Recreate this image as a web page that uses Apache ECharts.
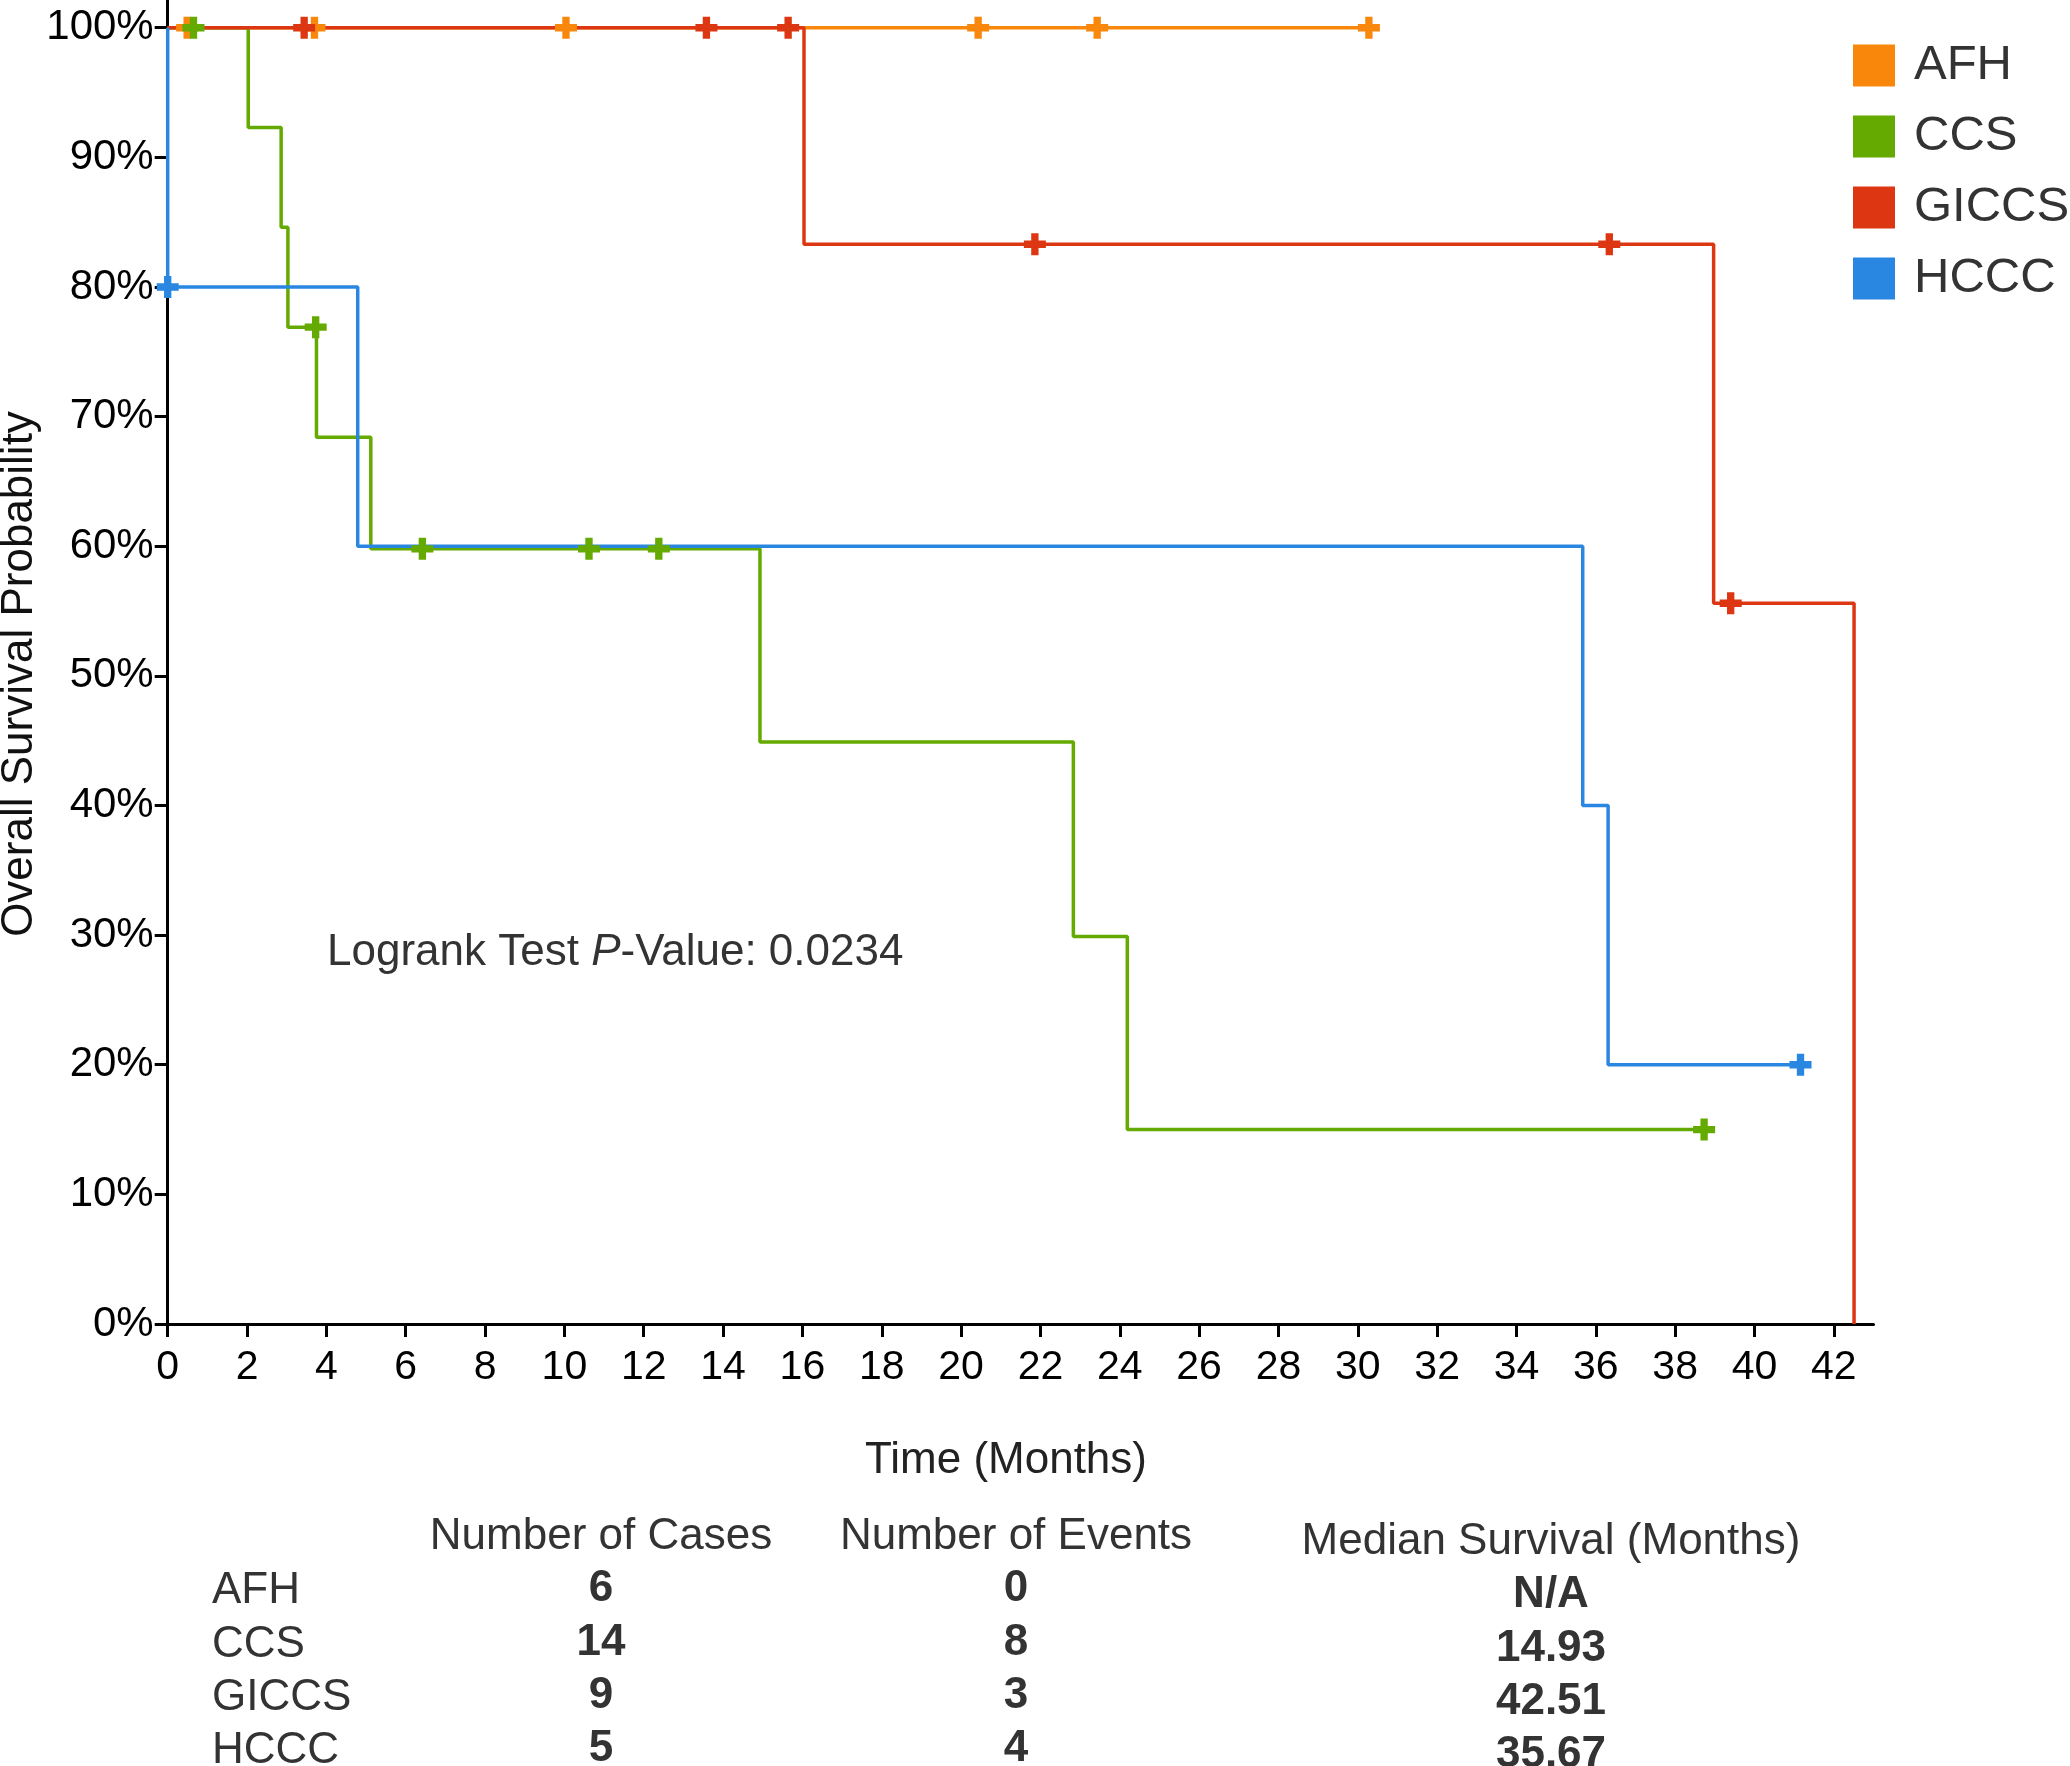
<!DOCTYPE html>
<html><head><meta charset="utf-8">
<script src="https://cdn.jsdelivr.net/npm/echarts@6/dist/echarts.min.js"></script>
<style>html,body{margin:0;padding:0;background:#fff}#c{width:2070px;height:1766px}</style>
</head><body><div id="c"></div>
<script>
// ---- data ----
const groups = ['AFH', 'CCS', 'GICCS', 'HCCC'];
const groupColors = ['#F8870B', '#64AA00', '#DC3712', '#2A87E1'];

// Kaplan-Meier steps: time (months) of each change and survival after it
const afhTimes = [0, 30.28];
const afhSurv = [1, 1];
const afhCensor = [0.49, 3.70, 10.04, 20.43, 23.43, 30.28];

const ccsTimes = [0, 2.03, 2.86, 3.03, 3.75, 5.12, 14.93, 22.83, 24.19, 38.73];
const ccsSurv = [1, 0.923, 0.846, 0.769, 0.684, 0.598, 0.449, 0.299, 0.150, 0.150];
const ccsCensor = [0.65, 3.73, 6.42, 10.62, 12.38, 38.73];

const giccsTimes = [0, 16.04, 38.97, 42.51];
const giccsSurv = [1, 0.833, 0.556, 0];
const giccsCensor = [3.44, 13.58, 15.64, 21.86, 36.34, 39.40];

const hcccTimes = [0, 0, 4.79, 35.67, 36.31, 41.16];
const hcccSurv = [1, 0.8, 0.6, 0.4, 0.2, 0.2];
const hcccCensor = [0, 41.16];

const xTickValues = [0,2,4,6,8,10,12,14,16,18,20,22,24,26,28,30,32,34,36,38,40,42];
const yTickValues = [0,0.1,0.2,0.3,0.4,0.5,0.6,0.7,0.8,0.9,1.0];

const tableHeaders = ['Number of Cases', 'Number of Events', 'Median Survival (Months)'];
const numCases = ['6', '14', '9', '5'];
const numEvents = ['0', '8', '3', '4'];
const medianSurvival = ['N/A', '14.93', '42.51', '35.67'];

const pValueLabel = '0.0234';

// ---- build ----
const FONT = '"Liberation Sans", Arial, Helvetica, sans-serif';
const curves = [
  [afhTimes, afhSurv, afhCensor],
  [ccsTimes, ccsSurv, ccsCensor],
  [giccsTimes, giccsSurv, giccsCensor],
  [hcccTimes, hcccSurv, hcccCensor]
];
function survAt(times, surv, t) {
  let idx = 0;
  for (let i = 0; i < times.length; i++) if (times[i] <= t) idx = i;
  return surv[idx];
}
const crossPath = 'path://M1,0H2V1H3V2H2V3H1V2H0V1H1Z';
const series = [];
curves.forEach((c, k) => {
  series.push({
    name: groups[k], type: 'line', step: 'end', showSymbol: false, symbol: 'none',
    color: groupColors[k], z: 2, animation: false,
    lineStyle: { width: 3.5, color: groupColors[k] },
    data: c[0].map((t, i) => [t, c[1][i]])
  });
});
curves.forEach((c, k) => {
  series.push({
    name: groups[k], type: 'scatter', symbol: crossPath, symbolSize: 22,
    color: groupColors[k], z: 5, animation: false,
    itemStyle: { color: groupColors[k], opacity: 1 },
    data: c[2].map(t => [t, survAt(c[0], c[1], t)])
  });
});

const graphics = [];
function txt(x, y, text, opts) {
  graphics.push({ type: 'text', x: x, y: y, silent: true, style: Object.assign({
    text: text, fontSize: 44, fontFamily: FONT, fill: '#333', align: 'center', verticalAlign: 'middle'
  }, opts || {}) });
}
// axis titles
graphics.push({ type: 'text', x: 20, y: 674, rotation: Math.PI / 2, silent: true,
  style: { text: 'Overall Survival Probability', fontSize: 44, fontFamily: FONT, fill: '#111', align: 'center', verticalAlign: 'middle' } });
txt(1006, 1461, 'Time (Months)', { fill: '#222' });
// logrank annotation
graphics.push({ type: 'text', x: 327, y: 953, silent: true, style: {
  text: '{a|Logrank Test }{i|P}{a|-Value: ' + pValueLabel + '}',
  verticalAlign: 'middle', align: 'left',
  rich: {
    a: { fontSize: 44, fontFamily: FONT, fill: '#333', color: '#333' },
    i: { fontSize: 44, fontFamily: FONT, fontStyle: 'italic', fill: '#333', color: '#333' }
  } } });
// table
const colX = [601, 1016, 1551];
const headY = [1537, 1537, 1542];
tableHeaders.forEach((h, j) => txt(colX[j], headY[j], h));
const rowY = [1591, 1645, 1698, 1751];
groups.forEach((g, i) => {
  txt(212, rowY[i], g, { align: 'left' });
  txt(colX[0], rowY[i] - 2, numCases[i], { fontWeight: 'bold' });
  txt(colX[1], rowY[i] - 2, numEvents[i], { fontWeight: 'bold' });
  txt(colX[2], rowY[i] + 4, medianSurvival[i], { fontWeight: 'bold' });
});

const chart = echarts.init(document.getElementById('c'));
chart.setOption({
  animation: false,
  backgroundColor: '#fff',
  grid: { left: 167.7, right: 196.5, top: 0, bottom: 442, outerBoundsMode: 'none', containLabel: false },
  legend: {
    data: groups, orient: 'vertical', left: 1848, top: 36, icon: 'rect',
    itemWidth: 42, itemHeight: 42, itemGap: 22,
    textStyle: { fontSize: 49, fontFamily: FONT, color: '#333', padding: [0, 0, 0, 14] }
  },
  xAxis: {
    type: 'value', min: 0, max: 43, interval: 2,
    axisLine: { show: true, onZero: false, lineStyle: { color: '#000', width: 3 } },
    axisTick: { show: true, length: 13, customValues: xTickValues, lineStyle: { color: '#000', width: 3 } },
    axisLabel: { customValues: xTickValues, fontSize: 41, fontFamily: FONT, color: '#000', margin: 23 },
    splitLine: { show: false }
  },
  yAxis: {
    type: 'value', min: 0, max: 1.0214,
    axisLine: { show: true, onZero: false, lineStyle: { color: '#000', width: 3 } },
    axisTick: { show: true, length: 13, customValues: yTickValues, lineStyle: { color: '#000', width: 3 } },
    axisLabel: { customValues: yTickValues, fontSize: 42, fontFamily: FONT, color: '#000', margin: 14,
      formatter: v => Math.round(v * 100) + '%' },
    splitLine: { show: false }
  },
  graphic: graphics,
  series: series
});
</script></body></html>
